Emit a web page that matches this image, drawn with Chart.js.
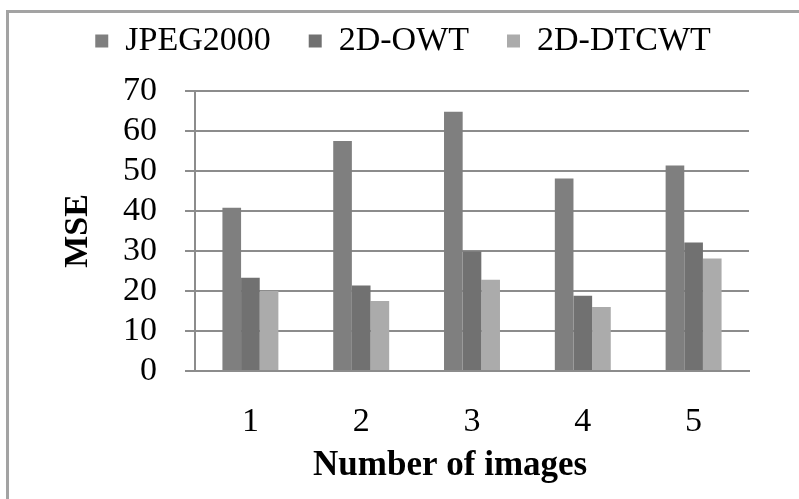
<!DOCTYPE html>
<html>
<head>
<meta charset="utf-8">
<script src="https://cdn.jsdelivr.net/npm/chart.js@4/dist/chart.umd.min.js"></script>
<style>
  html, body { margin: 0; padding: 0; background: #fff; overflow: hidden; }
  #wrap { position: relative; width: 799px; height: 499px; overflow: hidden; }
  #frame {
    position: absolute; left: 6px; top: 10px; width: 900px; height: 600px;
    border-top: 3px solid #a3a3a3; border-left: 3px solid #a3a3a3;
  }
  /* canvas pulled up a bit so the legend text sits where it should */
  #chart { position: absolute; left: 0; top: -20px; }
</style>
</head>
<body>
<div id="wrap">
  <div id="frame"></div>
  <canvas id="chart" width="799" height="519"></canvas>
</div>
<script>
// values
const categories = ['1', '2', '3', '4', '5'];
const jpeg2000 = [40.8, 57.5, 64.8, 48.1, 51.4];
const owt2d = [23.3, 21.4, 29.9, 18.8, 32.1];
const dtcwt2d = [20.0, 17.5, 22.8, 16.0, 28.1];
const seriesNames = ['JPEG2000', '2D-OWT', '2D-DTCWT'];
const seriesColors = ['#7f7f7f', '#717171', '#ababab'];

const gridColor = '#8c8c8c';
const serif = "'Liberation Serif', 'Times New Roman', serif";

// fixed legend height so the plot starts where the original does
const legendSpacer = {
    id: 'legendSpacer',
    afterInit(chart) {
        const legend = chart.legend;
        if (!legend) return;
        const fit = legend.fit;
        legend.fit = function () {
            fit.call(this);
            this.height = 105;
        };
    }
};

const chart = new Chart(document.querySelector('#chart'), {
    type: 'bar',
    data: {
        labels: categories,
        datasets: [jpeg2000, owt2d, dtcwt2d].map((vals, i) => ({
            label: seriesNames[i],
            data: vals,
            backgroundColor: seriesColors[i],
            borderWidth: 0,
            categoryPercentage: 0.505,
            barPercentage: 1.0
        }))
    },
    options: {
        responsive: false,
        animation: false,
        layout: {
            padding: { left: 57, right: 50, top: 6, bottom: 12 }
        },
        plugins: {
            tooltip: { enabled: false },
            legend: {
                position: 'top',
                labels: {
                    color: '#000',
                    font: { family: serif, size: 34 },
                    boxWidth: 13,
                    boxHeight: 13,
                    padding: 38
                }
            }
        },
        scales: {
            x: {
                grid: { display: false, drawTicks: false },
                border: { display: true, color: gridColor, width: 2 },
                ticks: {
                    color: '#000',
                    font: { family: serif, size: 34 },
                    padding: 31,
                    maxRotation: 0,
                    autoSkip: false
                },
                title: {
                    display: true,
                    // trailing spaces nudge the title left like the original
                    text: 'Number of images\u00a0\u00a0\u00a0\u00a0\u00a0',
                    color: '#000',
                    font: { family: serif, size: 35, weight: 'bold' },
                    padding: { top: 3, bottom: 0 }
                },
                afterFit(scale) {
                    scale.height = 116;
                }
            },
            y: {
                min: 0,
                max: 70,
                grid: {
                    color: gridColor,
                    lineWidth: 2,
                    drawTicks: true,
                    tickLength: 10
                },
                border: { display: true, color: gridColor, width: 2 },
                ticks: {
                    stepSize: 10,
                    autoSkip: false,
                    color: '#000',
                    font: { family: serif, size: 34 },
                    padding: 28
                },
                title: {
                    display: true,
                    text: 'MSE',
                    color: '#000',
                    font: { family: serif, size: 34, weight: 'bold' },
                    padding: { top: 1, bottom: 0 }
                },
                afterFit(scale) {
                    scale.width = 138;
                }
            }
        }
    },
    plugins: [legendSpacer]
});
</script>
</body>
</html>
